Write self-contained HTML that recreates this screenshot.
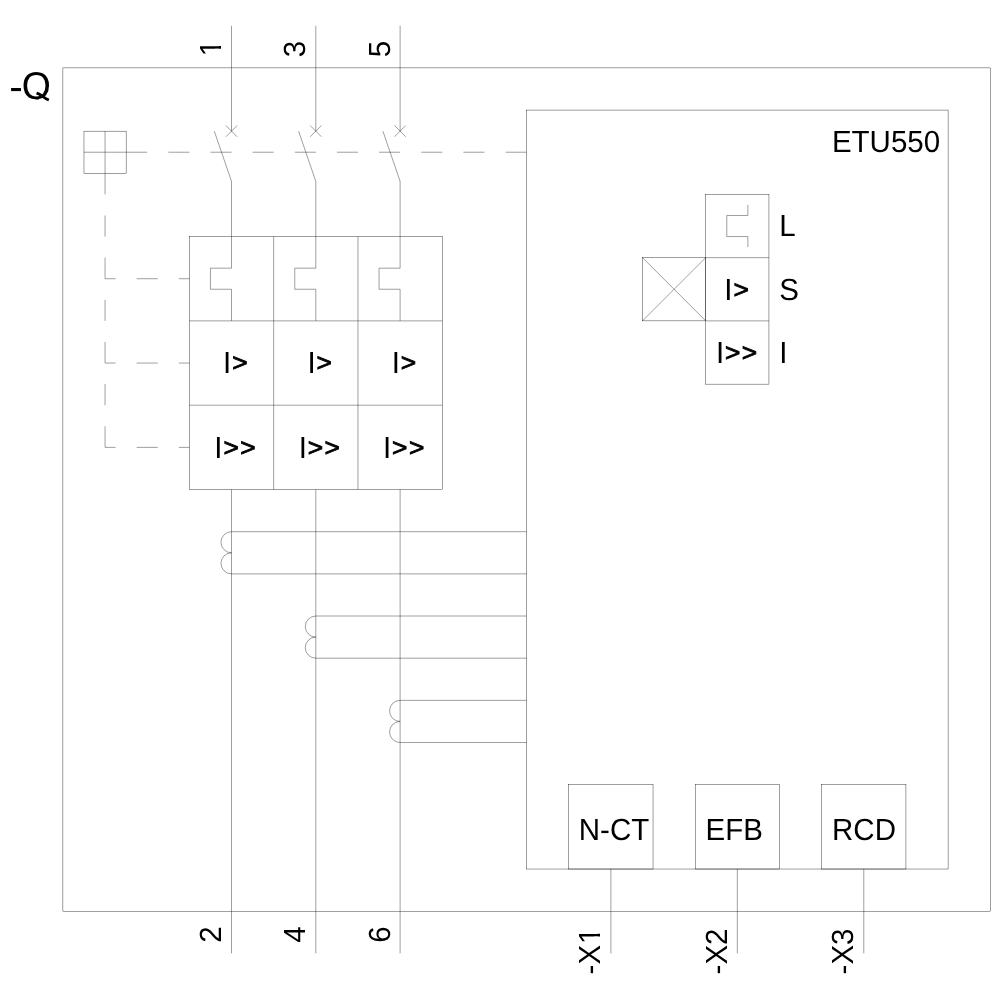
<!DOCTYPE html>
<html><head><meta charset="utf-8"><title>-Q ETU550</title>
<style>
html,body{margin:0;padding:0;background:#fff;}
svg{display:block;will-change:transform;}
text{font-family:"Liberation Sans",sans-serif;fill:#000;text-rendering:geometricPrecision;}
</style></head>
<body>
<svg width="1000" height="1000" viewBox="0 0 1000 1000">
<defs><clipPath id="one"><path d="M-1 -26H10.11V1H7.34V-6H-1Z"/></clipPath><clipPath id="qclip"><rect x="-2" y="-40" width="50" height="40.37"/></clipPath></defs>
<rect x="0" y="0" width="1000" height="1000" fill="#fff"/>
<g fill="none" stroke="#000" stroke-width="0.38">
<rect x="62.9" y="67.9" width="927.34" height="843.28"/>
<rect x="526.57" y="110.06" width="421.52" height="758.96"/>
<rect x="83.98" y="131.15" width="42.15" height="42.16"/>
<line x1="105.05" y1="131.15" x2="105.05" y2="173.31"/>
<line x1="83.98" y1="152.23" x2="126.13" y2="152.23"/>
<line x1="126.13" y1="152.23" x2="526.57" y2="152.23" stroke-dasharray="21.08 21.08"/>
<line x1="105.05" y1="173.31" x2="105.05" y2="447.38" stroke-dasharray="21.08 21.08"/>
<line x1="105.05" y1="278.72" x2="189.36" y2="278.72" stroke-dasharray="21.08 21.08" stroke-dashoffset="10.54"/>
<line x1="105.05" y1="363.05" x2="189.36" y2="363.05" stroke-dasharray="21.08 21.08" stroke-dashoffset="10.54"/>
<line x1="105.05" y1="447.38" x2="189.36" y2="447.38" stroke-dasharray="21.08 21.08" stroke-dashoffset="10.54"/>
<line x1="231.51" y1="25.74" x2="231.51" y2="131.15"/>
<line x1="225.91" y1="125.55" x2="237.11" y2="136.75"/>
<line x1="225.91" y1="136.75" x2="237.11" y2="125.55"/>
<path d="M214.31 131.15 L231.51 181.35 V268.18 H210.43 V289.26 H231.51 V320.88"/>
<line x1="231.51" y1="489.54" x2="231.51" y2="953.34"/>
<line x1="315.81" y1="25.74" x2="315.81" y2="131.15"/>
<line x1="310.21" y1="125.55" x2="321.41" y2="136.75"/>
<line x1="310.21" y1="136.75" x2="321.41" y2="125.55"/>
<path d="M298.61 131.15 L315.81 181.35 V268.18 H294.74 V289.26 H315.81 V320.88"/>
<line x1="315.81" y1="489.54" x2="315.81" y2="953.34"/>
<line x1="400.12" y1="25.74" x2="400.12" y2="131.15"/>
<line x1="394.52" y1="125.55" x2="405.72" y2="136.75"/>
<line x1="394.52" y1="136.75" x2="405.72" y2="125.55"/>
<path d="M382.92 131.15 L400.12 181.35 V268.18 H379.04 V289.26 H400.12 V320.88"/>
<line x1="400.12" y1="489.54" x2="400.12" y2="953.34"/>
<rect x="189.36" y="236.56" width="252.91" height="252.98"/>
<line x1="273.66" y1="236.56" x2="273.66" y2="489.54"/>
<line x1="357.96" y1="236.56" x2="357.96" y2="489.54"/>
<line x1="189.36" y1="320.88" x2="442.27" y2="320.88"/>
<line x1="189.36" y1="405.21" x2="442.27" y2="405.21"/>
<path d="M526.57 531.7 H231.51 A10.54 10.54 0 0 0 231.51 552.79 A10.54 10.54 0 0 0 231.51 573.87 H526.57"/>
<path d="M526.57 616.03 H315.81 A10.54 10.54 0 0 0 315.81 637.11 A10.54 10.54 0 0 0 315.81 658.2 H526.57"/>
<path d="M526.57 700.36 H400.12 A10.54 10.54 0 0 0 400.12 721.44 A10.54 10.54 0 0 0 400.12 742.52 H526.57"/>
<rect x="705.72" y="194.39" width="63.23" height="189.74"/>
<line x1="705.72" y1="257.64" x2="768.95" y2="257.64"/>
<line x1="705.72" y1="320.88" x2="768.95" y2="320.88"/>
<rect x="642.49" y="257.64" width="63.23" height="63.24"/>
<line x1="642.49" y1="257.64" x2="705.72" y2="320.88"/>
<line x1="642.49" y1="320.88" x2="705.72" y2="257.64"/>
<path d="M747.87 204.93 V215.47 H726.79 V236.56 H747.87 V247.1"/>
<rect x="568.72" y="784.69" width="84.31" height="84.33"/>
<line x1="610.88" y1="869.02" x2="610.88" y2="953.34"/>
<rect x="695.18" y="784.69" width="84.3" height="84.33"/>
<line x1="737.33" y1="869.02" x2="737.33" y2="953.34"/>
<rect x="821.64" y="784.69" width="84.3" height="84.33"/>
<line x1="863.79" y1="869.02" x2="863.79" y2="953.34"/>
</g>
<g>
<text transform="translate(9.3 100) scale(1.07 1.0347)" font-size="38">-</text>
<text transform="translate(21.7 99) scale(1 1.0347)" font-size="37.4" clip-path="url(#qclip)">Q</text>
<text transform="translate(221.11 56.18) rotate(-90) scale(1 1.0347)" font-size="29.5" clip-path="url(#one)">1</text>
<text transform="translate(305.41 57.16) rotate(-90) scale(1 1.0347)" font-size="29.5">3</text>
<text transform="translate(389.72 57.16) rotate(-90) scale(1 1.0347)" font-size="29.5">5</text>
<text transform="translate(221.11 942.8) rotate(-90) scale(1 1.0347)" font-size="29.5">2</text>
<text transform="translate(305.41 942.8) rotate(-90) scale(1 1.0347)" font-size="29.5">4</text>
<text transform="translate(389.72 942.8) rotate(-90) scale(1 1.0347)" font-size="29.5">6</text>
<text transform="translate(600.48 974.43) rotate(-90) scale(1 1.0347)" font-size="29.5">-X</text>
<text transform="translate(600.48 943.95) rotate(-90) scale(1 1.0347)" font-size="29.5" clip-path="url(#one)">1</text>
<text transform="translate(726.93 974.43) rotate(-90) scale(1 1.0347)" font-size="29.5">-X2</text>
<text transform="translate(853.39 974.43) rotate(-90) scale(1 1.0347)" font-size="29.5">-X3</text>
<text transform="translate(831.9 152) scale(1 1.0347)" font-size="29.5">ETU550</text>
<text transform="translate(223.08 373) scale(1 1.0347)" font-size="29.5">I</text>
<text transform="translate(232.19 371) scale(0.894 0.845)" font-size="29.5" stroke="#000" stroke-width="1" letter-spacing="1.6">&gt;</text>
<text transform="translate(214.35 458) scale(1 1.0347)" font-size="29.5">I</text>
<text transform="translate(223.46 456) scale(0.894 0.845)" font-size="29.5" stroke="#000" stroke-width="1" letter-spacing="1.6">&gt;&gt;</text>
<text transform="translate(307.38 373) scale(1 1.0347)" font-size="29.5">I</text>
<text transform="translate(316.49 371) scale(0.894 0.845)" font-size="29.5" stroke="#000" stroke-width="1" letter-spacing="1.6">&gt;</text>
<text transform="translate(298.65 458) scale(1 1.0347)" font-size="29.5">I</text>
<text transform="translate(307.76 456) scale(0.894 0.845)" font-size="29.5" stroke="#000" stroke-width="1" letter-spacing="1.6">&gt;&gt;</text>
<text transform="translate(391.69 373) scale(1 1.0347)" font-size="29.5">I</text>
<text transform="translate(400.8 371) scale(0.894 0.845)" font-size="29.5" stroke="#000" stroke-width="1" letter-spacing="1.6">&gt;</text>
<text transform="translate(382.96 458) scale(1 1.0347)" font-size="29.5">I</text>
<text transform="translate(392.07 456) scale(0.894 0.845)" font-size="29.5" stroke="#000" stroke-width="1" letter-spacing="1.6">&gt;&gt;</text>
<text transform="translate(724.35 300) scale(1 1.0347)" font-size="29.5">I</text>
<text transform="translate(733.46 298) scale(0.894 0.845)" font-size="29.5" stroke="#000" stroke-width="1" letter-spacing="1.6">&gt;</text>
<text transform="translate(715.9 363) scale(1 1.0347)" font-size="29.5">I</text>
<text transform="translate(725.01 361) scale(0.894 0.845)" font-size="29.5" stroke="#000" stroke-width="1" letter-spacing="1.6">&gt;&gt;</text>
<text transform="translate(779.2 236) scale(1 1.0347)" font-size="29.5">L</text>
<text transform="translate(779.2 300) scale(1 1.0347)" font-size="29.5">S</text>
<text transform="translate(779.3 363) scale(1 1.0347)" font-size="29.5">I</text>
<text transform="translate(578.77 840) scale(1 1.0347)" font-size="29.5">N-CT</text>
<text transform="translate(705.58 840) scale(1 1.0347)" font-size="29.5">EFB</text>
<text transform="translate(832.04 840) scale(1 1.0347)" font-size="29.5">RCD</text>
<path transform="translate(21.7 99) scale(0.018262 -0.018262)" d="M790 248L839 398Q996 354 1098 267L1266 150Q1401 57 1515 14L1458 -121Q1300 -64 1143 59L973 168Q886 224 790 248Z"/>
</g>
</svg>
</body></html>
